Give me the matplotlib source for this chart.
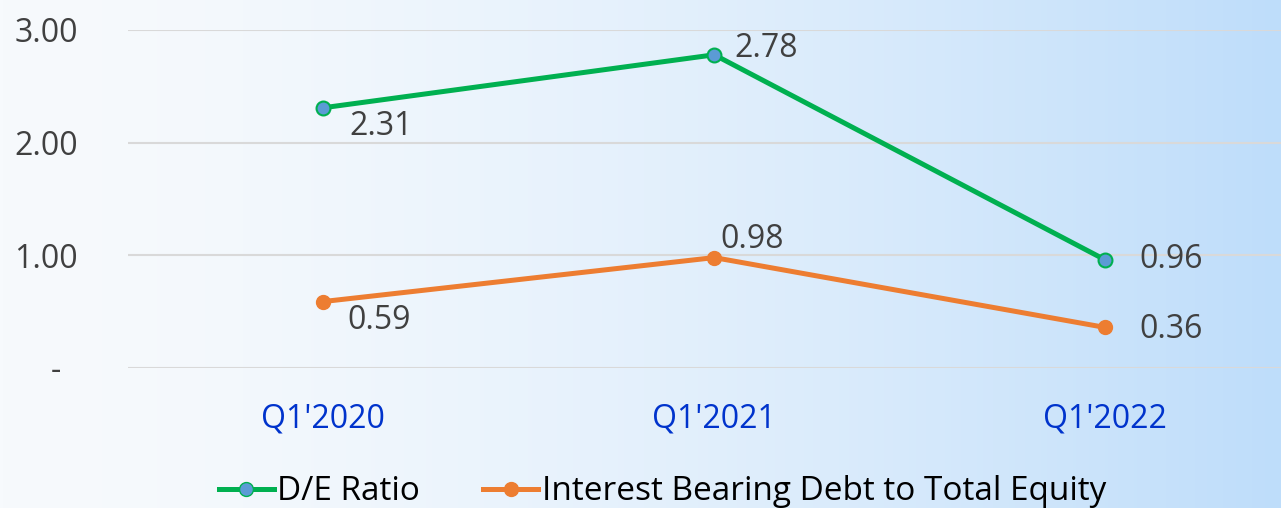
import numpy as np
import matplotlib
matplotlib.use("Agg")
import matplotlib.pyplot as plt
from matplotlib.lines import Line2D

categories = ["Q1'2020", "Q1'2021", "Q1'2022"]
de_ratio = [2.31, 2.78, 0.96]
ibd_equity = [0.59, 0.98, 0.36]
series_names = ["D/E Ratio", "Interest Bearing Debt to Total Equity"]
ytick_vals = [0, 1, 2, 3]
ytick_labels = ["-  ", "1.00", "2.00", "3.00"]

plt.rcParams['font.family'] = ['Open Sans', 'DejaVu Sans']

W, H = 1281, 508
fig = plt.figure(figsize=(W / 100, H / 100), dpi=100)

# background gradient
bg = fig.add_axes([0, 0, 1, 1], zorder=-10)
t = np.linspace(0, 1, 400) ** 1.6
c0 = np.array([247, 250, 253]) / 255
c1 = np.array([190, 221, 250]) / 255
grad = c0[None, :] * (1 - t[:, None]) + c1[None, :] * t[:, None]
bg.imshow(grad[None, :, :], aspect='auto', extent=[0, 1, 0, 1])
bg.set_axis_off()

ax = fig.add_axes([128 / W, 1 - 368 / H, (W - 128) / W, (368 - 30) / H])
ax.patch.set_alpha(0)
x = np.arange(len(categories))

green = '#00B050'
orange = '#ED7D31'
ax.plot(x, de_ratio, color=green, lw=3.6, marker='o', ms=10,
        mfc='#5B9BD5', mec=green, mew=1.5, zorder=3, clip_on=False)
ax.plot(x, ibd_equity, color=orange, lw=3.6, marker='o', ms=10,
        mfc=orange, mec=orange, zorder=3, clip_on=False)

ax.set_xlim(-0.5, 2.45)
ax.set_ylim(0, 3)
ax.set_yticks(ytick_vals)
ax.set_yticklabels(ytick_labels)
ax.set_xticks(x)
ax.set_xticklabels(categories)
ax.grid(axis='y', color='#D9D9D9', lw=1.5)
ax.set_axisbelow(True)
for s in ax.spines.values():
    s.set_visible(False)
ax.tick_params(axis='y', length=0, pad=36, labelsize=23, labelcolor='#404040')
ax.tick_params(axis='x', length=0, pad=25, labelsize=23, labelcolor='#0033CC')

lab_kw = dict(fontsize=23, color='#404040')
offs_de = [(26, -2, 'left', 'top'), (20, 6, 'left', 'center'), (34, 0, 'left', 'center')]
for xi, v, (dx, dy, ha, va) in zip(x, de_ratio, offs_de):
    ax.annotate(f"{v:.2f}", (xi, v), xytext=(dx, dy), textcoords='offset pixels',
                ha=ha, va=va, **lab_kw)
offs_ib = [(24, -2, 'left', 'top'), (6, 2, 'left', 'bottom'), (34, -2, 'left', 'center')]
for xi, v, (dx, dy, ha, va) in zip(x, ibd_equity, offs_ib):
    ax.annotate(f"{v:.2f}", (xi, v), xytext=(dx, dy), textcoords='offset pixels',
                ha=ha, va=va, **lab_kw)

handles = [
    Line2D([], [], color=green, lw=3.6, marker='o', ms=10, mfc='#5B9BD5', mec=green),
    Line2D([], [], color=orange, lw=3.6, marker='o', ms=10, mfc=orange, mec=orange),
]
fig.legend(handles, series_names, loc='lower center', bbox_to_anchor=(0.517, -0.06),
           ncol=2, frameon=False, fontsize=24, handlelength=1.65, handletextpad=0.1,
           columnspacing=1.9)

fig.savefig("out.png", dpi=100)
